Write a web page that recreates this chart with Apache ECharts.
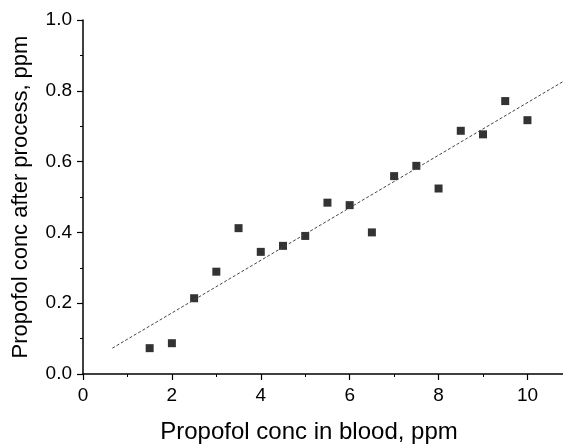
<!DOCTYPE html>
<html>
<head>
<meta charset="utf-8">
<script src="https://cdn.jsdelivr.net/npm/echarts@6/dist/echarts.min.js"></script>
<style>
  html, body { margin: 0; padding: 0; background: #fff; }
  #chart { width: 563px; height: 448px; }
</style>
</head>
<body>
<div id="chart"></div>
<script>
  // 血药浓度 vs 处理后浓度
  var bloodConc = [1.5, 2, 2.5, 3, 3.5, 4, 4.5, 5, 5.5, 6, 6.5, 7, 7.5, 8, 8.5, 9, 9.5, 10];
  var afterConc = [0.073, 0.087, 0.214, 0.289, 0.412, 0.345, 0.362, 0.390, 0.484, 0.477,
                   0.400, 0.559, 0.588, 0.524, 0.687, 0.677, 0.771, 0.717];
  // 拟合直线两端
  var fitX = [0.66, 10.8];
  var fitY = [0.073, 0.826];
  var xTicks = [0, 2, 4, 6, 8, 10];

  var chart = echarts.init(document.getElementById('chart'));
  var font = 'Liberation Sans, Arial, sans-serif';

  var option = {
    animation: false,
    grid: {
      left: 83,
      right: 0,
      top: 20,
      bottom: 74,
      containLabel: false,
      outerBoundsMode: 'none'
    },
    xAxis: {
      type: 'value',
      min: 0,
      max: 10.8,
      interval: 2,
      name: 'Propofol conc in blood, ppm',
      nameLocation: 'middle',
      nameGap: 46,
      nameTextStyle: { color: '#000', fontSize: 24, fontFamily: font, padding: [0, 28, 0, 0] },
      axisLine: { lineStyle: { color: '#000', width: 1.5 } },
      axisTick: { length: 6, lineStyle: { color: '#000', width: 1.2 }, customValues: xTicks },
      minorTick: { show: true, splitNumber: 2, length: 3, lineStyle: { color: '#000' } },
      axisLabel: {
        color: '#000', fontSize: 19, fontFamily: font, margin: 12,
        customValues: xTicks,
        formatter: function (v) { return String(v); }
      },
      splitLine: { show: false }
    },
    yAxis: {
      type: 'value',
      min: 0,
      max: 1.0,
      interval: 0.2,
      name: 'Propofol conc after process, ppm',
      nameLocation: 'middle',
      nameGap: 51,
      nameTextStyle: { color: '#000', fontSize: 22, fontFamily: font },
      axisLine: { show: true, lineStyle: { color: '#000', width: 1.5 } },
      axisTick: { show: true, length: 6, lineStyle: { color: '#000', width: 1.2 } },
      minorTick: { show: true, splitNumber: 2, length: 3, lineStyle: { color: '#000' } },
      axisLabel: {
        color: '#000', fontSize: 19, fontFamily: font, margin: 11,
        formatter: function (v) { return v.toFixed(1); }
      },
      splitLine: { show: false }
    },
    series: [{
      type: 'scatter',
      symbol: 'rect',
      symbolSize: 8,
      itemStyle: { color: '#000' },
      data: bloodConc.map(function (x, i) { return [x, afterConc[i]]; })
    }, {
      type: 'line',
      showSymbol: false,
      symbol: 'none',
      lineStyle: { color: '#444', width: 1, type: [3, 2] },
      data: fitX.map(function (x, i) { return [x, fitY[i]]; })
    }]
  };

  chart.setOption(option);
  window.addEventListener('resize', function () {
    chart.resize();
  });
</script>
</body>
</html>
